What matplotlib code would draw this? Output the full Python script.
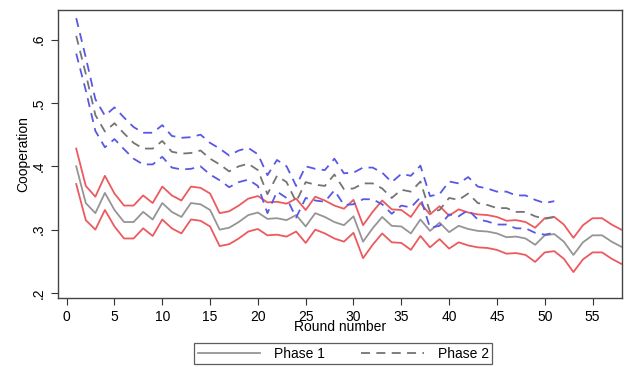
import matplotlib
matplotlib.use("Agg")
import matplotlib.pyplot as plt
import numpy as np

plt.rcParams['font.family'] = ['Liberation Sans', 'DejaVu Sans']

rounds1 = list(range(1, 59))
phase1_mean = [0.400, 0.342, 0.326, 0.358, 0.331, 0.312, 0.312, 0.328, 0.316, 0.342,
               0.328, 0.320, 0.342, 0.340, 0.331, 0.300, 0.303, 0.312, 0.323, 0.327,
               0.317, 0.318, 0.315, 0.323, 0.305, 0.326, 0.320, 0.312, 0.307, 0.321,
               0.281, 0.302, 0.320, 0.306, 0.305, 0.294, 0.316, 0.298, 0.311, 0.296,
               0.306, 0.301, 0.298, 0.297, 0.294, 0.288, 0.289, 0.286, 0.276, 0.291,
               0.293, 0.281, 0.260, 0.280, 0.291, 0.291, 0.281, 0.273]
phase1_hw = [0.028, 0.027, 0.026, 0.027, 0.026, 0.026, 0.026, 0.026, 0.026, 0.026,
             0.026, 0.026, 0.026, 0.026, 0.026, 0.026, 0.026, 0.026, 0.026, 0.026,
             0.026, 0.026, 0.026, 0.026, 0.026, 0.026, 0.026, 0.026, 0.026, 0.026,
             0.026, 0.026, 0.026, 0.026, 0.026, 0.026, 0.026, 0.026, 0.026, 0.026,
             0.026, 0.026, 0.026, 0.026, 0.026, 0.026, 0.026, 0.026, 0.027, 0.027,
             0.027, 0.027, 0.027, 0.027, 0.027, 0.027, 0.027, 0.027]

rounds2 = list(range(1, 52))
phase2_mean = [0.606, 0.546, 0.481, 0.455, 0.468, 0.452, 0.437, 0.428, 0.428, 0.440,
               0.423, 0.420, 0.421, 0.425, 0.412, 0.403, 0.392, 0.400, 0.404, 0.394,
               0.356, 0.385, 0.375, 0.344, 0.375, 0.371, 0.369, 0.387, 0.364, 0.365,
               0.373, 0.373, 0.365, 0.350, 0.363, 0.360, 0.376, 0.328, 0.331, 0.350,
               0.347, 0.357, 0.342, 0.339, 0.334, 0.334, 0.328, 0.328, 0.321, 0.317,
               0.320]
phase2_hw = [0.028, 0.026, 0.025, 0.025, 0.025, 0.025, 0.025, 0.025, 0.025, 0.025,
             0.025, 0.025, 0.025, 0.025, 0.025, 0.025, 0.025, 0.025, 0.025, 0.025,
             0.030, 0.025, 0.025, 0.025, 0.025, 0.025, 0.025, 0.025, 0.025, 0.025,
             0.025, 0.025, 0.025, 0.025, 0.025, 0.025, 0.025, 0.025, 0.025, 0.026,
             0.026, 0.026, 0.026, 0.026, 0.026, 0.026, 0.026, 0.026, 0.026, 0.025,
             0.025]

xticks = list(range(0, 60, 5))
yticks = [0.2, 0.3, 0.4, 0.5, 0.6]
ytick_labels = ['.2', '.3', '.4', '.5', '.6']

m1 = np.array(phase1_mean); h1 = np.array(phase1_hw)
m2 = np.array(phase2_mean); h2 = np.array(phase2_hw)

fig = plt.figure(figsize=(6.31, 3.67), dpi=100)
ax = fig.add_axes([0.092, 0.188, 0.894, 0.785])

red = '#ec5a5e'
blue = '#5858e6'
lw = 1.3

ax.plot(rounds1, m1 + h1, color=red, lw=lw)
ax.plot(rounds1, m1 - h1, color=red, lw=lw)
l1, = ax.plot(rounds1, m1, color='#959595', lw=lw)

dash = (0, (5, 3.5))
ax.plot(rounds2, m2 + h2, color=blue, lw=lw, linestyle=dash)
ax.plot(rounds2, m2 - h2, color=blue, lw=lw, linestyle=dash)
l2, = ax.plot(rounds2, m2, color='#747474', lw=lw, linestyle=dash)

ax.set_xlim(-0.9, 58.1)
ax.set_ylim(0.192, 0.647)
ax.set_xticks(xticks)
ax.set_yticks(yticks)
ax.set_yticklabels(ytick_labels, rotation=90, va='center')
ax.tick_params(axis='both', labelsize=10, length=5, width=0.8, color='#333333')
ax.tick_params(axis='y', pad=4)
for s in ax.spines.values():
    s.set_color('#444444')
    s.set_linewidth(1.0)

ax.set_xlabel('Round number', fontsize=10, labelpad=-3)
ax.set_ylabel('Cooperation', fontsize=10, labelpad=1)

leg = fig.legend([l1, l2], ['Phase 1', 'Phase 2'], loc='center', ncol=2,
                 bbox_to_anchor=(0.544, 0.036), fontsize=10, frameon=True,
                 fancybox=False, edgecolor='#333333', handlelength=4.5,
                 columnspacing=2.6, borderpad=0.25, handletextpad=1.0,
                 borderaxespad=0.0)
leg.get_frame().set_linewidth(0.9)

fig.savefig('out.png', dpi=100)
